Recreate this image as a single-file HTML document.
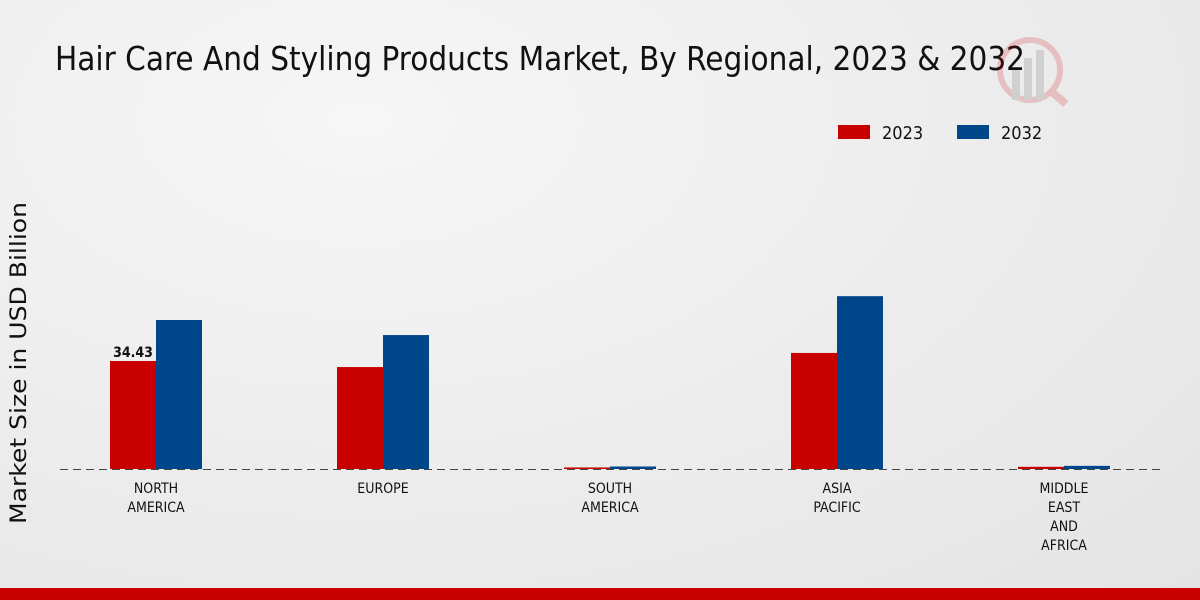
<!DOCTYPE html>
<html><head><meta charset="utf-8"><style>
html,body{margin:0;padding:0}
body{width:1200px;height:600px;overflow:hidden;background:radial-gradient(ellipse at 30% 20%,#f6f6f6 0%,#ececec 55%,#e4e4e4 100%);font-family:"DejaVu Sans Condensed","DejaVu Sans","Liberation Sans",sans-serif;position:relative}
</style></head><body>
<svg id="chart" width="1200" height="600" xmlns="http://www.w3.org/2000/svg" style="position:absolute;left:0;top:0">
<text x="55" y="70" font-size="33" fill="#111" textLength="970" lengthAdjust="spacingAndGlyphs">Hair Care And Styling Products Market, By Regional, 2023 &amp; 2032</text>
<g opacity="0.18">
<circle cx="1030" cy="70" r="30" fill="none" stroke="#c00" stroke-width="6"/>
<line x1="1052" y1="92" x2="1066" y2="104" stroke="#c00" stroke-width="8"/>
<rect x="1012" y="70" width="8" height="30" fill="#555"/><rect x="1024" y="58" width="8" height="42" fill="#555"/><rect x="1036" y="50" width="8" height="50" fill="#555"/>
</g>
<text transform="translate(26,363) rotate(-90)" text-anchor="middle" font-size="22" font-family="DejaVu Sans, sans-serif" fill="#111" textLength="322" lengthAdjust="spacingAndGlyphs">Market Size in USD Billion</text>
<g>
<rect x="838" y="125" width="32" height="14" fill="#c80000"/>
<text x="882" y="139" font-size="18" fill="#111">2023</text>
<rect x="957" y="125" width="32" height="14" fill="#00468b"/>
<text x="1001" y="139" font-size="18" fill="#111">2032</text>
</g>
<g id="bars"></g>
<line x1="60" y1="469.5" x2="1160" y2="469.5" stroke="#444" stroke-width="1" stroke-dasharray="8,5"/>
<g id="xlabels"></g>
<rect x="0" y="588" width="1200" height="12" fill="#c80000"/>
</svg>
<script>
const categories=[["NORTH","AMERICA"],["EUROPE"],["SOUTH","AMERICA"],["ASIA","PACIFIC"],["MIDDLE","EAST","AND","AFRICA"]];
const values2023=[34.43,32.5,0.5,37.0,0.7];
const values2032=[47.5,42.7,0.8,55.1,1.0];
const shownLabels=["34.43",null,null,null,null];
const baseY=469, scale=108/34.43, x0=156, step=227, bw=46;
const yPos=v=>baseY-v*scale;
const xPos=i=>x0+i*step;
const NS="http://www.w3.org/2000/svg";
const bars=document.getElementById('bars'), xl=document.getElementById('xlabels');
function mk(t,a){const e=document.createElementNS(NS,t);for(const k in a)e.setAttribute(k,a[k]);return e;}
categories.forEach((c,i)=>{
  const cx=xPos(i);
  const r=mk('rect',{x:cx-bw,y:yPos(values2023[i]),width:bw,height:baseY-yPos(values2023[i]),fill:'#c80000'});
  
  
  bars.appendChild(r);
  const b=mk('rect',{x:cx,y:yPos(values2032[i]),width:bw,height:baseY-yPos(values2032[i]),fill:'#00468b'});
  
  
  bars.appendChild(b);
  if(shownLabels[i]){
    const t=mk('text',{x:cx-bw/2,y:yPos(values2023[i])-4,'text-anchor':'middle','font-size':14,'font-weight':'bold',fill:'#111'});
    t.textContent=shownLabels[i];
    
    
    bars.appendChild(t);
  }
  c.forEach((line,j)=>{
    const t=mk('text',{x:cx,y:493+j*19,'text-anchor':'middle','font-size':14,fill:'#111'});
    t.textContent=line;
    
    
    xl.appendChild(t);
  });
});
</script>
</body></html>
